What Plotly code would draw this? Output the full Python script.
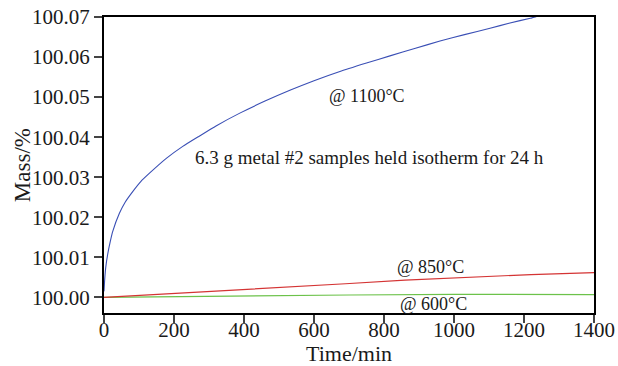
import plotly.graph_objects as go

# Time (min) and mass (%)
t_1100 = [0, 2, 5, 11, 18, 25, 44, 60, 82, 105, 130, 178, 225, 273, 320, 388, 460, 531, 600,
          674, 750, 817, 890, 960, 1030, 1103, 1160, 1218, 1235]
m_1100 = [100.0015, 100.0045, 100.0075, 100.0110, 100.0140, 100.0165, 100.0210, 100.0237,
          100.0264, 100.0289, 100.0310, 100.0347, 100.0377, 100.0403, 100.0428, 100.0460,
          100.0490, 100.0517, 100.0541, 100.0564, 100.0585, 100.0603, 100.0622, 100.0640,
          100.0656, 100.0672, 100.0685, 100.0697, 100.0701]

t_850 = [0, 170, 345, 520, 690, 860, 1040, 1220, 1400]
m_850 = [100.0000, 100.0008, 100.0016, 100.0025, 100.0034, 100.0043, 100.0050, 100.0057, 100.0062]

t_600 = [0, 200, 400, 700, 1000, 1400]
m_600 = [100.0000, 100.0002, 100.0004, 100.0006, 100.00075, 100.0007]

x_ticks = [0, 200, 400, 600, 800, 1000, 1200, 1400]
y_ticks = [100.00, 100.01, 100.02, 100.03, 100.04, 100.05, 100.06, 100.07]

FONT = "Liberation Serif"
TXT = "#1a1a1a"

fig = go.Figure()
fig.add_trace(go.Scatter(x=t_600, y=m_600, mode="lines",
                         line=dict(color="#6cc24a", width=1.2), showlegend=False))
fig.add_trace(go.Scatter(x=t_850, y=m_850, mode="lines",
                         line=dict(color="#d43434", width=1.2), showlegend=False))
fig.add_trace(go.Scatter(x=t_1100, y=m_1100, mode="lines", line_shape="spline",
                         line=dict(color="#3a4fb5", width=1.1, smoothing=0.5), showlegend=False))

annots = [
    (751, 100.0502, "@ 1100°C", 18),
    (759, 100.0349, "6.3 g metal #2 samples held isotherm for 24 h", 19),
    (932, 100.00767, "@ 850°C", 18),
    (940, 99.9983, "@ 600°C", 18),
]
for x, y, txt, sz in annots:
    fig.add_annotation(x=x, y=y, text=txt, showarrow=False,
                       font=dict(family=FONT, size=sz, color=TXT))

# axis titles
fig.add_annotation(x=0.5, y=-0.137, xref="paper", yref="paper", text="Time/min",
                   showarrow=False, xanchor="center", yanchor="middle",
                   font=dict(family=FONT, size=22, color=TXT))
fig.add_annotation(x=-0.167, y=0.5, xref="paper", yref="paper", text="Mass/%",
                   showarrow=False, textangle=-90, xanchor="center", yanchor="middle",
                   font=dict(family=FONT, size=23, color=TXT))

fig.update_layout(
    width=618, height=366,
    margin=dict(l=104, r=24, t=17, b=53),
    plot_bgcolor="white", paper_bgcolor="white",
    font=dict(family=FONT, color=TXT),
    xaxis=dict(range=[0, 1400], tickvals=x_ticks, ticks="outside", ticklen=8, tickwidth=2,
               showline=True, linewidth=2, linecolor="black", mirror=True, showgrid=False,
               zeroline=False, automargin=False, ticklabelstandoff=-11,
               ticklabeloverflow="allow",
               tickfont=dict(family=FONT, size=21, color=TXT)),
    yaxis=dict(range=[99.9961, 100.07], tickvals=y_ticks, tickformat=".2f", ticks="outside",
               ticklen=8, tickwidth=2, showline=True, linewidth=2, linecolor="black",
               mirror=True, showgrid=False, zeroline=False, automargin=False,
               ticklabeloverflow="allow",
               tickfont=dict(family=FONT, size=21, color=TXT)),
)

# remove the page's default 8px body margin so the figure sits at the window's corner
fig.write_html("out.html", config={"displayModeBar": False},
               post_script="document.body.style.margin='0';")
